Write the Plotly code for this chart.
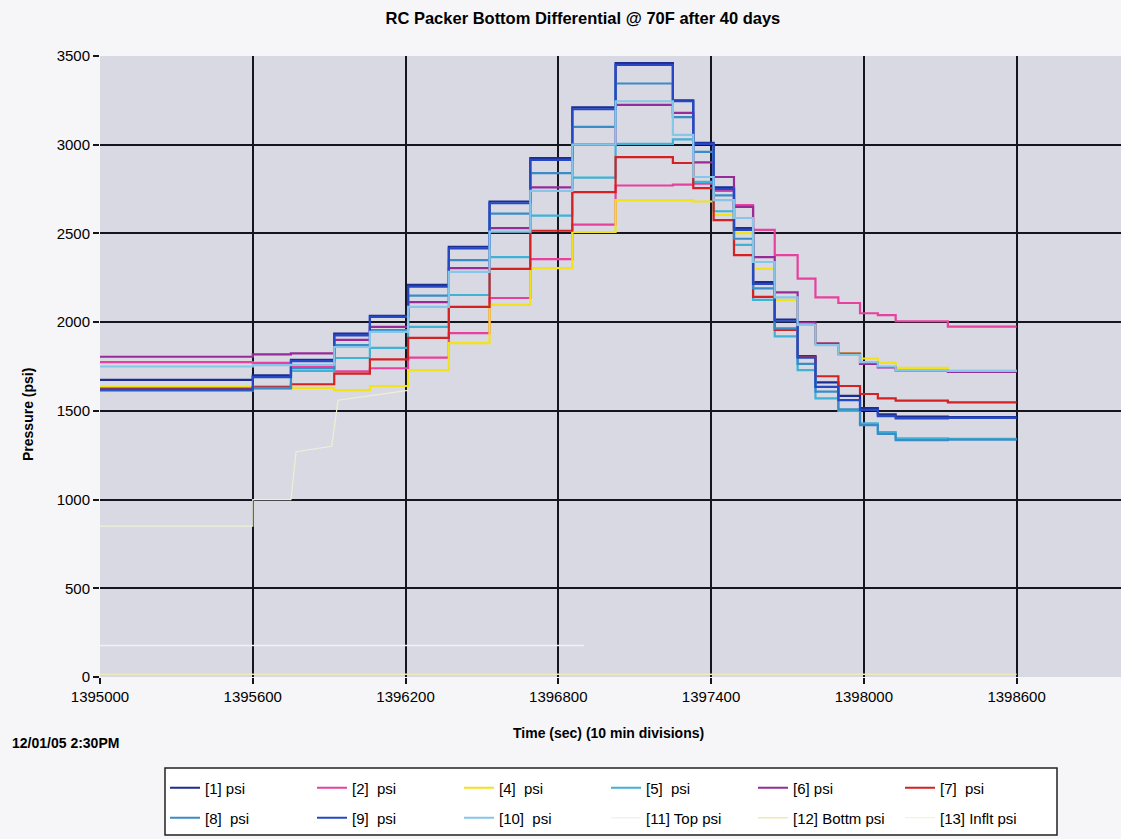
import plotly.graph_objects as go

# Step boundaries (seconds)
t_edges = [1395000, 1395600, 1395750, 1395920, 1396060, 1396210, 1396370, 1396530,
           1396690, 1396855, 1397025, 1397250, 1397330, 1397410, 1397490, 1397565,
           1397650, 1397740, 1397810, 1397900, 1397985, 1398055, 1398125, 1398330, 1398600]

# Pressure level held during each step (psi)
p1 = [1675, 1700, 1787, 1935, 2035, 2210, 2425, 2680, 2925, 3210, 3460, 3250, 3010, 2760, 2530, 2225, 2015, 1808, 1660, 1585, 1515, 1480, 1468, 1465]
p2 = [1775, 1770, 1748, 1722, 1740, 1800, 1938, 2136, 2355, 2550, 2770, 2775, 2780, 2740, 2660, 2520, 2378, 2245, 2140, 2108, 2050, 2040, 2005, 1975]
p4 = [1635, 1640, 1630, 1617, 1640, 1730, 1882, 2097, 2305, 2508, 2688, 2688, 2680, 2604, 2502, 2300, 2125, 1984, 1880, 1825, 1795, 1770, 1742, 1725]
p5 = [1615, 1625, 1725, 1798, 1855, 1973, 2153, 2367, 2600, 2815, 3005, 3030, 2790, 2625, 2435, 2125, 1920, 1730, 1570, 1500, 1430, 1380, 1345, 1342]
p6 = [1805, 1818, 1824, 1900, 1973, 2113, 2305, 2530, 2760, 3000, 3225, 3180, 2900, 2818, 2650, 2367, 2168, 1998, 1880, 1823, 1765, 1745, 1728, 1720]
p7 = [1625, 1635, 1650, 1710, 1790, 1911, 2086, 2300, 2515, 2733, 2930, 2897, 2755, 2575, 2378, 2142, 1956, 1805, 1695, 1640, 1595, 1570, 1558, 1548]
p8 = [1615, 1630, 1741, 1870, 1955, 2150, 2350, 2612, 2840, 3100, 3345, 3156, 2960, 2715, 2470, 2190, 1965, 1765, 1608, 1508, 1420, 1370, 1335, 1338]
p9 = [1620, 1690, 1780, 1925, 2030, 2200, 2415, 2670, 2915, 3200, 3450, 3245, 3005, 2750, 2520, 2215, 2005, 1800, 1635, 1560, 1505, 1470, 1458, 1460]
p10 = [1750, 1758, 1760, 1860, 1945, 2086, 2283, 2510, 2740, 3000, 3245, 3055, 2818, 2688, 2587, 2339, 2140, 1985, 1870, 1815, 1775, 1750, 1730, 1725]

# Faint channels
top_t = [1395000, 1396900]
top_v = [178, 178]
bot_t = [1395000, 1398600]
bot_v = [15, 15]
infl_t = [1395000, 1395600, 1395600, 1395750, 1395770, 1395910, 1395935, 1396210]
infl_v = [850, 850, 1000, 1000, 1270, 1300, 1560, 1615]

x_ticks = [1395000, 1395600, 1396200, 1396800, 1397400, 1398000, 1398600]
y_ticks = [0, 500, 1000, 1500, 2000, 2500, 3000, 3500]

series = [
    ("[1] psi", p1, "#1c2d8f", "legend"),
    ("[2]\u00a0 psi", p2, "#e8409e", "legend"),
    ("[4]\u00a0 psi", p4, "#f2e21c", "legend"),
    ("[5]\u00a0 psi", p5, "#3fb2d6", "legend"),
    ("[6] psi", p6, "#962c98", "legend"),
    ("[7]\u00a0 psi", p7, "#d42222", "legend"),
    ("[8]\u00a0 psi", p8, "#3a8cc6", "legend2"),
    ("[9]\u00a0 psi", p9, "#2548c4", "legend2"),
    ("[10]\u00a0 psi", p10, "#86c6e8", "legend2"),
]

FONT = "Liberation Sans, Arial, sans-serif"
fig = go.Figure()
for name, vals, col, lg in series:
    fig.add_trace(go.Scatter(x=t_edges, y=vals + [vals[-1]], mode="lines", name=name,
                             legend=lg, line=dict(color=col, width=2.2, shape="hv")))

fig.add_trace(go.Scatter(x=top_t, y=top_v, mode="lines", name="[11] Top psi", legend="legend2",
                         line=dict(color="#eef1f6", width=1.5)))
fig.add_trace(go.Scatter(x=bot_t, y=bot_v, mode="lines", name="[12] Bottm psi", legend="legend2",
                         line=dict(color="#eeeab8", width=1.5)))
fig.add_trace(go.Scatter(x=infl_t, y=infl_v, mode="lines", name="[13] Inflt psi", legend="legend2",
                         line=dict(color="#eef0d4", width=1.2)))


def fx(px):
    return (px - 100) / 1021


def fy(py):
    return (677 - py) / 621


grid = "#15151f"
leg_common = dict(orientation="h", xanchor="left", yanchor="middle",
                  bgcolor="rgba(0,0,0,0)", borderwidth=0,
                  font=dict(size=15, family=FONT), entrywidth=102, entrywidthmode="pixels",
                  itemwidth=30)
fig.update_layout(
    width=1121, height=839,
    margin=dict(l=100, r=0, t=56, b=162, autoexpand=False),
    paper_bgcolor="#f6f6f8",
    plot_bgcolor="#d9d9e3",
    font=dict(family=FONT, size=15, color="black"),
    title=dict(text="<b>RC Packer Bottom Differential @ 70F after 40 days</b>",
               x=0.52, xanchor="center", y=1 - 18 / 839, yanchor="middle",
               font=dict(size=16.5, family=FONT, color="black")),
    xaxis=dict(range=[1395000, 1399010], tickvals=x_ticks, ticktext=[str(v) for v in x_ticks],
               showgrid=True, gridcolor=grid, gridwidth=2, zeroline=False,
               ticks="outside", ticklen=6, tickcolor=grid, tickwidth=2,
               showline=False, tickfont=dict(size=15)),
    yaxis=dict(range=[0, 3500], tickvals=y_ticks, showgrid=True, gridcolor=grid, gridwidth=2,
               zeroline=False, ticks="outside", ticklen=6, tickcolor=grid, tickwidth=2,
               showline=False, tickfont=dict(size=15)),
    legend=dict(x=fx(165), y=fy(788), **leg_common),
    legend2=dict(x=fx(165), y=fy(818), **leg_common),
    showlegend=True,
)

fig.add_shape(type="rect", xref="paper", yref="paper",
              x0=fx(165), x1=fx(1057), y0=fy(835), y1=fy(768),
              fillcolor="white", line=dict(color="#222222", width=1.5), layer="below")

fig.add_annotation(text="<b>Pressure (psi)</b>", xref="paper", yref="paper",
                   x=fx(28), y=fy(415), textangle=-90, showarrow=False,
                   font=dict(size=14, family=FONT), xanchor="center", yanchor="middle")
fig.add_annotation(text="<b>Time (sec) (10 min divisions)</b>", xref="paper", yref="paper",
                   x=fx(608), y=fy(733), showarrow=False,
                   font=dict(size=14, family=FONT), xanchor="center", yanchor="middle")
fig.add_annotation(text="<b>12/01/05 2:30PM</b>", xref="paper", yref="paper",
                   x=fx(10), y=fy(743), showarrow=False,
                   font=dict(size=14, family=FONT), xanchor="left", yanchor="middle")

fig.write_html("out.html")
